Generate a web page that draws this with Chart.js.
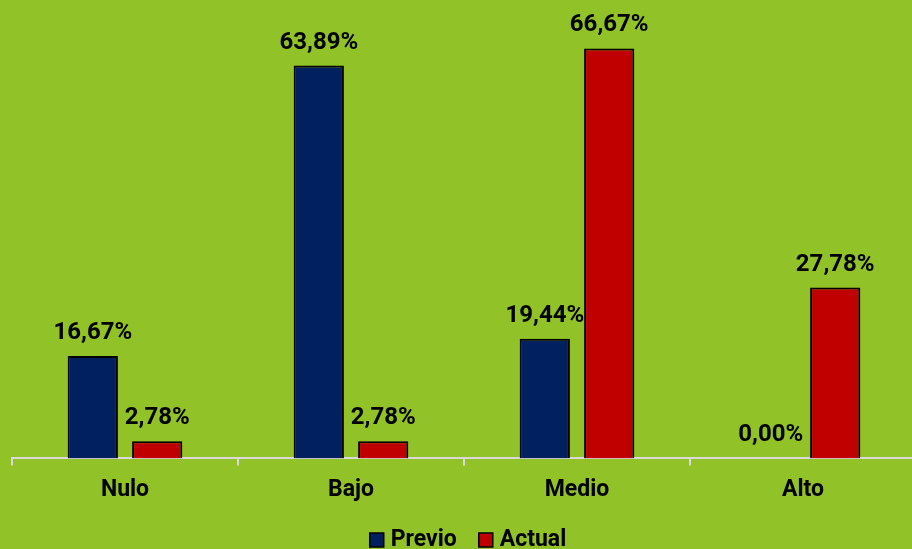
<!DOCTYPE html>
<html>
<head>
<meta charset="utf-8">
<script src="https://cdn.jsdelivr.net/npm/chart.js@4.4.1/dist/chart.umd.min.js"></script>
<style>
  html, body { margin: 0; padding: 0; background: #91C227; overflow: hidden; }
  #wrap { width: 916px; height: 549px; position: relative; }
</style>
</head>
<body>
<div id="wrap"><canvas id="grafico"></canvas></div>
<script>
// datos
const categorias = ['Nulo', 'Bajo', 'Medio', 'Alto'];
const previo = [16.67, 63.89, 19.44, 0.00];
const actual = [2.78, 2.78, 66.67, 27.78];
const series = ['Previo', 'Actual'];
const colores = ['#002060', '#C00000'];

const fuente = 'Roboto, "Liberation Sans", sans-serif';

// etiquetas de valor encima de cada barra
const etiquetasPlugin = {
    id: 'etiquetas',
    afterDatasetsDraw(chart) {
        const ctx = chart.ctx;
        ctx.save();
        ctx.font = 'bold 24px ' + fuente;
        ctx.fillStyle = '#000';
        ctx.textAlign = 'center';
        ctx.textBaseline = 'middle';
        chart.data.datasets.forEach((ds, i) => {
            chart.getDatasetMeta(i).data.forEach((bar, j) => {
                const txt = ds.data[j].toFixed(2).replace('.', ',') + '%';
                ctx.fillText(txt, bar.x, bar.y - 23);
            });
        });
        ctx.restore();
    }
};

// leyenda abajo, dibujada a mano para controlar posición
const leyendaPlugin = {
    id: 'leyenda',
    afterDraw(chart) {
        const ctx = chart.ctx;
        ctx.save();
        ctx.font = 'bold 23px ' + fuente;
        ctx.textBaseline = 'middle';
        const y = 540;
        const caja = 14, hueco = 7, sep = 22;
        const anchos = series.map(s => ctx.measureText(s).width);
        const total = anchos.reduce((a, w) => a + caja + hueco + w, 0) + sep * (series.length - 1);
        let x = 468 - total / 2;
        series.forEach((s, i) => {
            ctx.fillStyle = colores[i];
            ctx.fillRect(x, y - 7, caja, caja);
            ctx.lineWidth = 1.5;
            ctx.strokeStyle = '#000';
            ctx.strokeRect(x, y - 7, caja, caja);
            ctx.fillStyle = '#000';
            ctx.fillText(s, x + caja + hueco, y);
            x += caja + hueco + anchos[i] + sep;
        });
        ctx.restore();
    }
};

new Chart(document.getElementById('grafico'), {
    type: 'bar',
    data: {
        labels: categorias,
        datasets: [
            { label: series[0], data: previo, backgroundColor: colores[0], borderColor: '#000', borderWidth: 2 },
            { label: series[1], data: actual, backgroundColor: colores[1], borderColor: '#000', borderWidth: 2 }
        ]
    },
    options: {
        responsive: true,
        maintainAspectRatio: false,
        animation: false,
        datasets: { bar: { categoryPercentage: 0.57, barPercentage: 0.78 } },
        layout: { padding: { top: 28, left: 12, right: 0, bottom: 34 } },
        plugins: { legend: { display: false }, tooltip: { enabled: false } },
        scales: {
            x: {
                border: { color: '#d9d9d9', width: 2 },
                grid: { drawOnChartArea: false, drawTicks: true, tickLength: 7, color: '#d9d9d9', lineWidth: 2 },
                ticks: { color: '#000', padding: 11, font: { family: fuente, size: 23, weight: 'bold' } }
            },
            y: { display: false, min: 0, max: 70 }
        }
    },
    plugins: [etiquetasPlugin, leyendaPlugin]
});
</script>
</body>
</html>
